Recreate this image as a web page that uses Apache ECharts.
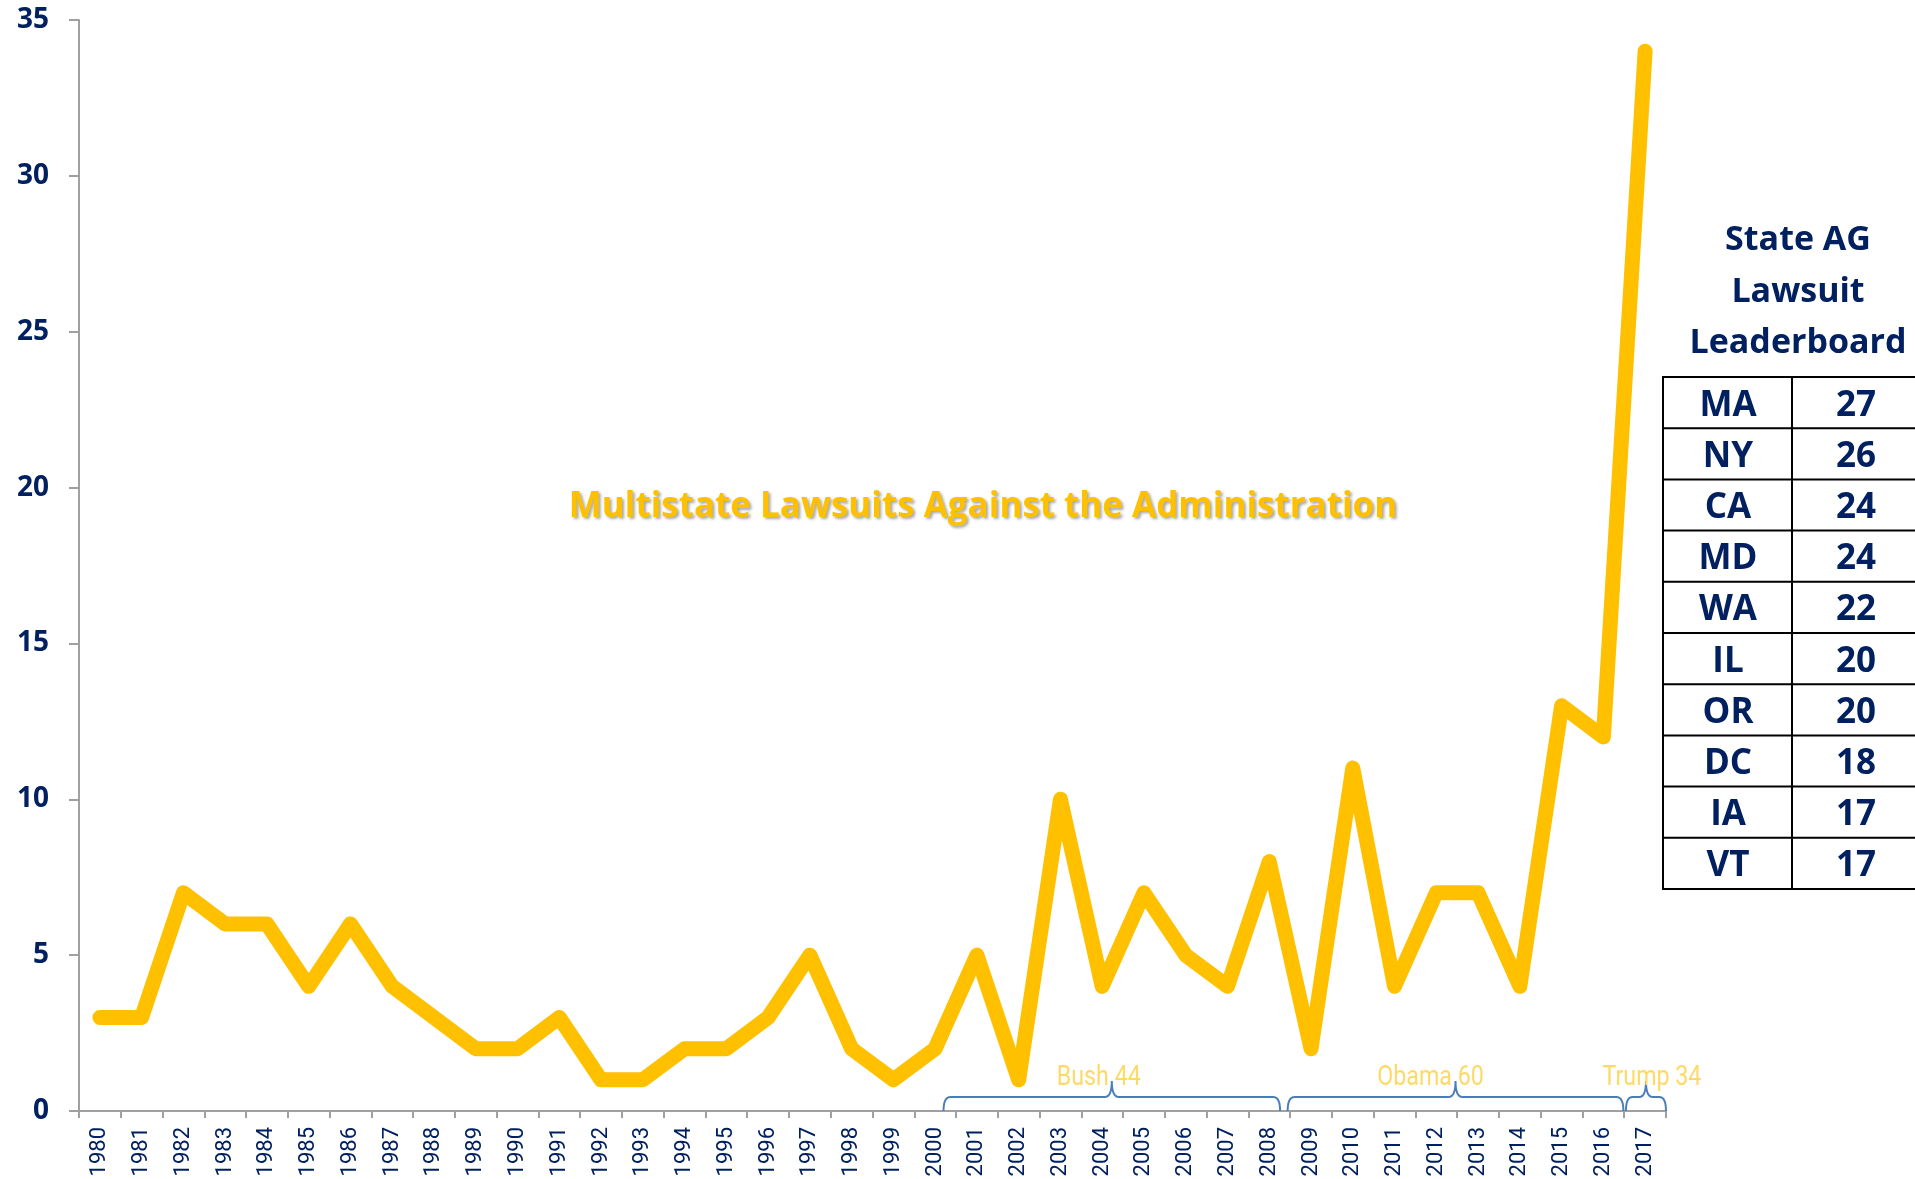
<!DOCTYPE html>
<html>
<head>
<meta charset="utf-8">
<script src="https://cdn.jsdelivr.net/npm/echarts@6/dist/echarts.min.js"></script>
<style>
html,body{margin:0;padding:0;background:#ffffff;}
#chart{width:1915px;height:1179px;}
</style>
</head>
<body>
<div id="chart"></div>
<script>
// ---------------- data ----------------
const years = ['1980','1981','1982','1983','1984','1985','1986','1987','1988','1989',
               '1990','1991','1992','1993','1994','1995','1996','1997','1998','1999',
               '2000','2001','2002','2003','2004','2005','2006','2007','2008','2009',
               '2010','2011','2012','2013','2014','2015','2016','2017'];
const lawsuits = [3,3,7,6,6,4,6,4,3,2,
                  2,3,1,1,2,2,3,5,2,1,
                  2,5,1,10,4,7,5,4,8,2,
                  11,4,7,7,4,13,12,34];
const yMin = 0, yMax = 35, yStep = 5;

const eraNames = ['Bush','Obama','Trump'];
const eraFirstYear = ['2001','2009','2017'];
const eraLastYear = ['2008','2016','2017'];

const chartTitle = 'Multistate Lawsuits Against the Administration';
const boardTitle = ['State AG','Lawsuit','Leaderboard'];
const boardStates = ['MA','NY','CA','MD','WA','IL','OR','DC','IA','VT'];
const boardCounts = [27,26,24,24,22,20,20,18,17,17];

// ---------------- styles / layout ----------------
const NAVY = '#002060';
const GOLD = '#FFC000';
const LABEL_GOLD = '#FFD966';
const BRACE = '#4A7EBB';
const AXIS_GREY = '#A0A0A0';
// per era: [left shift, right shift] as fraction of a category band, label x offset px
const braceLayout = [[-0.30,-0.24,-13],[-0.06,-0.02,-25],[0.04,0.0,6]];

// pick a narrow font if one exists
function textW(font, s){
  const c = document.createElement('canvas').getContext('2d');
  c.font = font; return c.measureText(s).width;
}
const hasNarrow = Math.abs(textW('40px "Liberation Sans Narrow", monospace', 'Bush 1980') -
                           textW('40px monospace', 'Bush 1980')) > 1;
const NARROW_FAMILY = hasNarrow ? '"Liberation Sans Narrow", Roboto, sans-serif' : 'Roboto, sans-serif';
const xLabelSize = hasNarrow ? 25 : 22;
const eraScaleX = hasNarrow ? 1 : 0.86;

const eraData = eraNames.map(function(n, i){
  const a = years.indexOf(eraFirstYear[i]);
  const b = years.indexOf(eraLastYear[i]);
  let total = 0;
  for (let k = a; k <= b; k++) total += lawsuits[k];
  return [a, b, total, i];
});

function renderBrace(params, api){
  const a = api.value(0), b = api.value(1), total = api.value(2), idx = api.value(3);
  const bw = api.size([1, 0])[0];
  const lay = braceLayout[idx];
  const p0 = api.coord([a, 0]);
  const yb = p0[1];
  const L = p0[0] - bw/2 + lay[0]*bw;
  const R = api.coord([b, 0])[0] + bw/2 + lay[1]*bw;
  const T = (L + R)/2;
  const yh = yb - 14, yt = yb - 30;
  const r = Math.min(7, (R - L)/6);
  const d = 'M' + L + ',' + yb +
            ' Q' + L + ',' + yh + ' ' + (L + r) + ',' + yh +
            ' L' + (T - r) + ',' + yh +
            ' Q' + T + ',' + yh + ' ' + T + ',' + yt +
            ' Q' + T + ',' + yh + ' ' + (T + r) + ',' + yh +
            ' L' + (R - r) + ',' + yh +
            ' Q' + R + ',' + yh + ' ' + R + ',' + yb;
  return {
    type: 'group',
    children: [
      {type: 'path', shape: {pathData: d},
       style: {fill: 'none', stroke: BRACE, lineWidth: 2}},
      {type: 'text', x: T + lay[2], y: yb - 33, scaleX: eraScaleX,
       style: {text: eraNames[idx] + ' ' + total, x: 0, y: 0, fill: LABEL_GOLD,
               font: '27px ' + NARROW_FAMILY,
               align: 'center', verticalAlign: 'middle',
               textAlign: 'center', textVerticalAlign: 'middle'}}
    ]
  };
}

// ---------------- graphics: title + leaderboard ----------------
const graphics = [];
graphics.push({
  type: 'text', x: 983, y: 507, z: 10,
  style: {text: chartTitle, fill: GOLD,
          font: 'bold 35px "Open Sans", sans-serif',
          align: 'center', verticalAlign: 'middle',
          textAlign: 'center', textVerticalAlign: 'middle',
          textShadowColor: 'rgba(0,0,0,0.35)', textShadowBlur: 3,
          textShadowOffsetX: 2, textShadowOffsetY: 2}
});
const boardTitleY = [240, 292, 343];
boardTitle.forEach(function(t, i){
  graphics.push({
    type: 'text', x: 1798, y: boardTitleY[i], z: 10,
    style: {text: t, fill: NAVY, font: 'bold 34px "Open Sans", sans-serif',
            align: 'center', verticalAlign: 'middle',
            textAlign: 'center', textVerticalAlign: 'middle'}
  });
});
const tLeft = 1663, tTop = 377, rowH = 51.2, tRight = 1940, tDiv = 1792;
const nRows = boardStates.length;
const tBottom = tTop + rowH*nRows;
graphics.push({type: 'line', z: 10, shape: {x1: tLeft, y1: tTop, x2: tLeft, y2: tBottom},
               style: {stroke: '#000', lineWidth: 2}});
graphics.push({type: 'line', z: 10, shape: {x1: tDiv, y1: tTop, x2: tDiv, y2: tBottom},
               style: {stroke: '#000', lineWidth: 2}});
for (let i = 0; i <= nRows; i++){
  const y = tTop + rowH*i;
  graphics.push({type: 'line', z: 10, shape: {x1: tLeft - 1, y1: y, x2: tRight, y2: y},
                 style: {stroke: '#000', lineWidth: 2}});
}
boardStates.forEach(function(s, i){
  const cy = tTop + rowH*(i + 0.5) + 3;
  graphics.push({type: 'text', x: 1728, y: cy, z: 10,
    style: {text: s, fill: NAVY, font: 'bold 35px "Open Sans", sans-serif',
            align: 'center', verticalAlign: 'middle',
            textAlign: 'center', textVerticalAlign: 'middle'}});
  graphics.push({type: 'text', x: 1856, y: cy, z: 10,
    style: {text: String(boardCounts[i]), fill: NAVY, font: 'bold 35px "Open Sans", sans-serif',
            align: 'center', verticalAlign: 'middle',
            textAlign: 'center', textVerticalAlign: 'middle'}});
});

// ---------------- chart ----------------
const chart = echarts.init(document.getElementById('chart'), null, {renderer: 'canvas'});
chart.setOption({
  backgroundColor: '#ffffff',
  animation: false,
  grid: {left: 79, top: 20, right: 249, bottom: 68, containLabel: false, outerBoundsMode: 'none'},
  xAxis: {
    type: 'category',
    data: years,
    boundaryGap: true,
    axisLine: {lineStyle: {color: AXIS_GREY, width: 2}},
    axisTick: {show: true, interval: 0, length: 7, lineStyle: {color: AXIS_GREY, width: 2}},
    axisLabel: {interval: 0, rotate: 90, margin: 16, color: NAVY,
                fontFamily: NARROW_FAMILY, fontSize: xLabelSize},
    splitLine: {show: false}
  },
  yAxis: {
    type: 'value',
    min: yMin, max: yMax, interval: yStep,
    axisLine: {show: true, lineStyle: {color: AXIS_GREY, width: 2}},
    axisTick: {show: true, length: 10, lineStyle: {color: AXIS_GREY, width: 2}},
    axisLabel: {margin: 30, color: NAVY, fontFamily: '"Open Sans", sans-serif',
                fontWeight: 'bold', fontSize: 28},
    splitLine: {show: false}
  },
  series: [
    {
      type: 'line',
      data: lawsuits,
      symbol: 'none',
      z: 3,
      lineStyle: {color: GOLD, width: 15, cap: 'round', join: 'round'}
    },
    {
      type: 'custom',
      data: eraData,
      renderItem: renderBrace,
      clip: false,
      silent: true,
      z: 4
    }
  ],
  graphic: graphics
});
</script>
</body>
</html>
